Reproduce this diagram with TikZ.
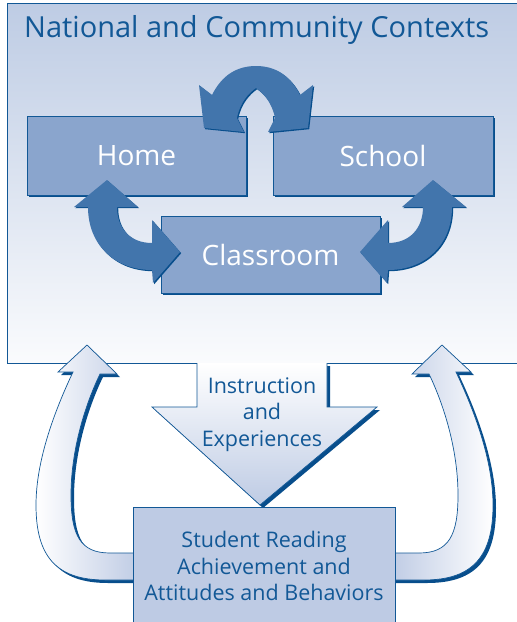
\documentclass[tikz,border=0pt]{standalone}
\usepackage{fontspec}
\setmainfont{Open Sans}
\usetikzlibrary{shadows}
\definecolor{dfnavy}{RGB}{18,88,150}
\definecolor{dfdark}{RGB}{8,78,140}
\definecolor{dfarrow}{RGB}{66,117,172}
\definecolor{dfbox}{RGB}{138,165,205}
\definecolor{dfpale}{RGB}{190,203,228}
\definecolor{dftop}{RGB}{190,204,228}
\definecolor{dfbottom}{RGB}{250,251,253}
\tikzstyle{context} = [rectangle, draw=dfnavy, line width=1pt, top color=dftop, bottom color=dfbottom, inner sep=0pt]
\tikzstyle{panel} = [rectangle, draw=dfnavy, fill=dfbox, line width=0.9pt, inner sep=0pt, text=white, font=\fontsize{28}{32}\selectfont, drop shadow={shadow xshift=1.5pt, shadow yshift=-1.5pt, fill=dfdark, opacity=1}]
\tikzstyle{bluearrow} = [fill=dfarrow, drop shadow={shadow xshift=1.2pt, shadow yshift=-1.2pt, fill=dfdark, opacity=1}]
\tikzstyle{palearrow} = [draw=dfnavy, line width=0.7pt, drop shadow={shadow xshift=3pt, shadow yshift=-3pt, fill=dfdark, opacity=1}]
\tikzstyle{label} = [text=dfnavy, inner sep=0pt, align=center, font=\fontsize{21.5}{26.6}\selectfont]

\begin{document}
\begin{tikzpicture}[x=1pt, y=-1pt]
\clip (0,0) rectangle (517,622);

% Contexts box
\node[context, minimum width=523, minimum height=359.5] (ctx) at (268.5,183.25) {};
\node[anchor=base west, inner sep=0pt, text=dfnavy, font=\fontsize{29}{32}\selectfont] (title) at (24,37.5) {National and Community Contexts};

% Home, school, classroom
\node[panel, minimum width=219, minimum height=79] (home) at (136.5,155.5) {Home};
\node[panel, minimum width=220, minimum height=79] (school) at (383,155.5) {School};
\node[panel, minimum width=219, minimum height=77] (classroom) at (270.5,254.5) {Classroom};

% Home <-> school
\path[bluearrow] (199,85) -- (204,128) -- (244,132) -- (237,118)
  .. controls (240,102) and (249,93) .. (256,88)
  .. controls (263,93) and (272,102) .. (275,118)
  -- (268,132) -- (308,128) -- (313,85) -- (300,95)
  .. controls (290,75) and (275,66) .. (256,66)
  .. controls (237,66) and (222,75) .. (212,95) -- cycle;

% Home <-> classroom
\path[bluearrow] (88,207) -- (74,207) -- (107,180) -- (138,207) -- (117,207)
  .. controls (117,228) and (130,243) .. (152,243)
  -- (152,220) -- (180,252) -- (153,283) -- (152,270)
  .. controls (115,270) and (88,245) .. (88,207) -- cycle;

% School <-> classroom
\path[bluearrow] (452,207) -- (466,207) -- (433,180) -- (402,207) -- (423,207)
  .. controls (423,228) and (410,243) .. (388,243)
  -- (388,220) -- (360,252) -- (387,283) -- (388,270)
  .. controls (425,270) and (452,245) .. (452,207) -- cycle;

% Feedback arrows
\path[palearrow, left color=white, right color=dfpale] (140,553) -- (110,553)
  .. controls (80,553) and (71,535) .. (71,495)
  .. controls (71,450) and (85,405) .. (100,374)
  -- (117,374) -- (87,345) -- (58,372) -- (73,372)
  .. controls (55,410) and (36,460) .. (36,505)
  .. controls (36,555) and (55,580) .. (105,580) -- (140,580) -- cycle;
\path[palearrow, left color=dfpale, right color=white] (389,553) -- (419,553)
  .. controls (449,553) and (458,535) .. (458,495)
  .. controls (458,450) and (444,405) .. (429,374)
  -- (412,374) -- (442,345) -- (471,372) -- (456,372)
  .. controls (474,410) and (493,460) .. (493,505)
  .. controls (493,555) and (474,580) .. (424,580) -- (389,580) -- cycle;

% Instruction arrow
\path[top color=white, bottom color=dfpale, drop shadow={shadow xshift=3pt, shadow yshift=-3pt, fill=dfdark, opacity=1}]
  (197,363) -- (197,407) -- (152,407) -- (260,505) -- (377,407) -- (327,407) -- (327,363) -- cycle;
\draw[dfnavy, line width=0.7pt] (197,363) -- (197,407) -- (152,407) -- (260,505) -- (377,407) -- (327,407) -- (327,363);
\node[label] (instr) at (262,414.5) {Instruction\\and\\Experiences};

% Student box
\node[rectangle, draw=dfnavy, fill=dfpale, line width=0.9pt, minimum width=262, minimum height=118, label] (student) at (264,566) {Student Reading\\Achievement and\\Attitudes and Behaviors};
\end{tikzpicture}
\end{document}
